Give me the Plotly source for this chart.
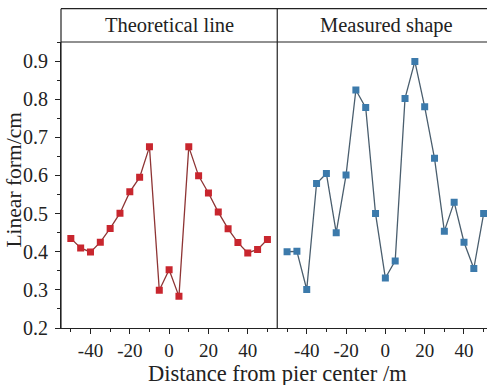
import plotly.graph_objects as go

# ---- data ----
distance = [-50, -45, -40, -35, -30, -25, -20, -15, -10, -5, 0, 5, 10, 15, 20, 25, 30, 35, 40, 45, 50]
theoretical = [0.435, 0.410, 0.399, 0.425, 0.461, 0.501, 0.557, 0.595, 0.675, 0.299, 0.353, 0.283,
               0.675, 0.599, 0.554, 0.504, 0.460, 0.424, 0.397, 0.406, 0.432]
measured = [0.400, 0.401, 0.301, 0.579, 0.605, 0.450, 0.601, 0.824, 0.778, 0.500, 0.331, 0.376,
            0.802, 0.899, 0.780, 0.645, 0.454, 0.530, 0.425, 0.356, 0.500]
panel_titles = ["Theoretical line", "Measured shape"]
x_tickvals = [-40, -20, 0, 20, 40]
x_ticktext = ["-40", "-20", "0", "20", "40"]
y_tickvals = [0.2, 0.3, 0.4, 0.5, 0.6, 0.7, 0.8, 0.9]
y_ticktext = ["0.2", "0.3", "0.4", "0.5", "0.6", "0.7", "0.8", "0.9"]

W, H = 487, 385
ml, mr, mt, mb = 60.5, 0, 42.3, 57.3
plot_w = W - ml - mr
plot_h = H - mt - mb
split = (277 - ml) / plot_w
hdr_top = 1 + (42.3 - 9) / plot_h

FONT = "Liberation Serif"
BLACK = "#222222"

fig = go.Figure()
fig.add_trace(go.Scatter(
    x=distance, y=theoretical, mode="lines+markers", xaxis="x", yaxis="y",
    line=dict(color="#8e3434", width=1.3),
    marker=dict(symbol="square", size=7, color="#c8262e", line=dict(width=0)),
    showlegend=False))
fig.add_trace(go.Scatter(
    x=distance, y=measured, mode="lines+markers", xaxis="x2", yaxis="y2",
    line=dict(color="#4a5e6e", width=1.3),
    marker=dict(symbol="square", size=7, color="#3c7aab", line=dict(width=0)),
    showlegend=False))

xcommon = dict(
    tickmode="array", tickvals=x_tickvals, ticktext=x_ticktext, ticks="outside", ticklen=5, tickwidth=1,
    tickcolor=BLACK, showline=True, linecolor=BLACK, linewidth=1.2, showgrid=False,
    zeroline=False, tickfont=dict(family=FONT, size=19, color=BLACK),
    minor=dict(dtick=10, tick0=0, ticks="outside", ticklen=3, tickcolor=BLACK, showgrid=False),
    ticklabelstandoff=0,
)
fig.update_layout(
    width=W, height=H,
    margin=dict(l=ml, r=mr, t=mt, b=mb, pad=0),
    paper_bgcolor="white", plot_bgcolor="white",
    xaxis=dict(domain=[0, split], range=[-55, 55], anchor="y", **xcommon),
    xaxis2=dict(domain=[split, 1], range=[-55, 51.7], anchor="y2", **xcommon),
    yaxis=dict(range=[0.2, 0.95], tickmode="array", tickvals=y_tickvals, ticktext=y_ticktext,
               ticks="outside", ticklen=5, tickcolor=BLACK, showline=True,
               linecolor=BLACK, linewidth=1.2, showgrid=False, zeroline=False,
               tickfont=dict(family=FONT, size=20, color=BLACK),
               minor=dict(dtick=0.05, tick0=0.2, ticks="outside", ticklen=2.5,
                          tickcolor=BLACK, showgrid=False),
               ticklabelstandoff=3, anchor="x"),
    yaxis2=dict(range=[0.2, 0.95], showticklabels=False, ticks="", showline=False,
                showgrid=False, zeroline=False, anchor="x2", matches="y"),
)

# header boxes and dividers
line = dict(color=BLACK, width=1.2)
fig.add_shape(type="line", xref="paper", yref="paper", x0=0, x1=1, y0=hdr_top, y1=hdr_top, line=line)
fig.add_shape(type="line", xref="paper", yref="paper", x0=0, x1=1, y0=1, y1=1, line=line)
fig.add_shape(type="line", xref="paper", yref="paper", x0=0, x1=0, y0=0, y1=hdr_top, line=line)
fig.add_shape(type="line", xref="paper", yref="paper", x0=split, x1=split, y0=0, y1=hdr_top, line=line)

hdr_font = dict(family=FONT, size=20.5, color=BLACK)
fig.add_annotation(text=panel_titles[0], xref="paper", yref="paper",
                   x=split / 2, y=(1 + hdr_top) / 2, showarrow=False,
                   font=hdr_font, xanchor="center", yanchor="middle")
fig.add_annotation(text=panel_titles[1], xref="paper", yref="paper",
                   x=(386 - ml) / plot_w, y=(1 + hdr_top) / 2,
                   showarrow=False, font=hdr_font, xanchor="center", yanchor="middle")

# axis titles
fig.add_annotation(text="Distance from pier center /m", xref="paper", yref="paper",
                   x=split, y=-(373 - (mt + plot_h)) / plot_h, showarrow=False,
                   font=dict(family=FONT, size=22.5, color=BLACK), xanchor="center", yanchor="middle")
fig.add_annotation(text="Linear form/cm", xref="paper", yref="paper",
                   x=-(ml - 13) / plot_w, y=(plot_h - (180 - mt)) / plot_h, showarrow=False, textangle=-90,
                   font=dict(family=FONT, size=21.5, color=BLACK), xanchor="center", yanchor="middle")

fig.write_html("out.html")
